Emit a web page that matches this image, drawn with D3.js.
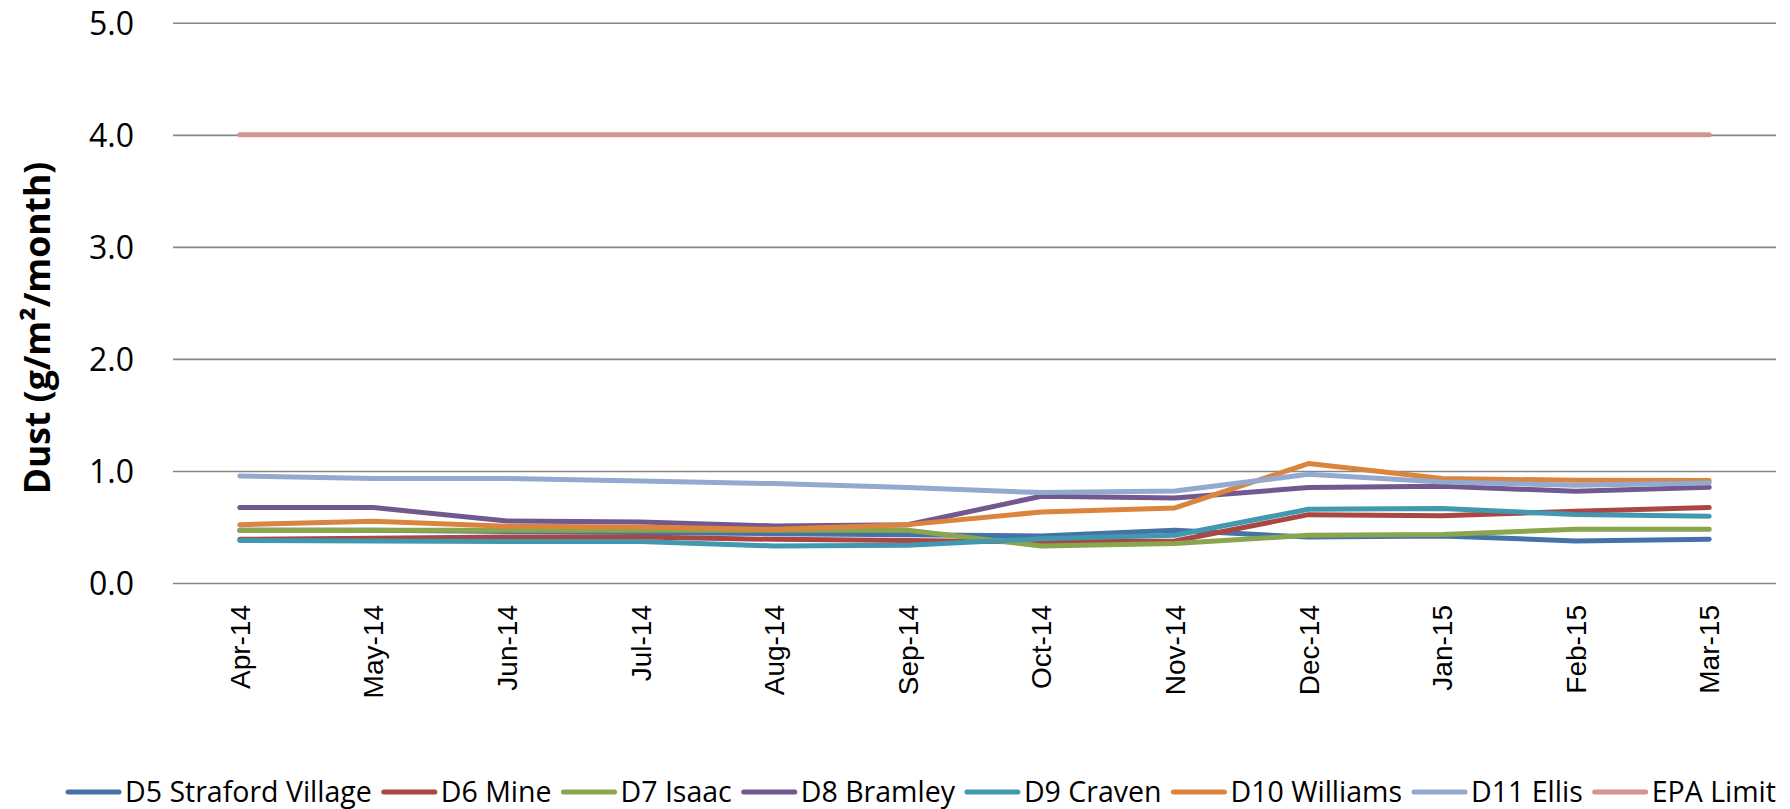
<!DOCTYPE html>
<html>
<head>
<meta charset="utf-8">
<script src="https://cdn.jsdelivr.net/npm/d3@7"></script>
<style>
  html, body { margin: 0; padding: 0; background: #fff; }
  svg { display: block; }
</style>
</head>
<body>
<svg id="chart" width="1790" height="809"></svg>
<script>
const months = ["Apr-14","May-14","Jun-14","Jul-14","Aug-14","Sep-14","Oct-14","Nov-14","Dec-14","Jan-15","Feb-15","Mar-15"];
const seriesNames = ["D5 Straford Village","D6 Mine","D7 Isaac","D8 Bramley","D9 Craven","D10 Williams","D11 Ellis","EPA Limit"];
const d5 = [0.47, 0.47, 0.46, 0.45, 0.44, 0.43, 0.42, 0.47, 0.41, 0.42, 0.375, 0.39];
const d6 = [0.39, 0.40, 0.41, 0.41, 0.39, 0.38, 0.365, 0.375, 0.61, 0.60, 0.64, 0.673];
const d7 = [0.47, 0.47, 0.47, 0.47, 0.47, 0.47, 0.33, 0.352, 0.426, 0.432, 0.479, 0.479];
const d8 = [0.673, 0.673, 0.554, 0.545, 0.509, 0.52, 0.774, 0.759, 0.852, 0.863, 0.819, 0.854];
const d9 = [0.38, 0.375, 0.37, 0.37, 0.33, 0.336, 0.396, 0.426, 0.658, 0.664, 0.611, 0.595];
const d10 = [0.521, 0.551, 0.506, 0.5, 0.479, 0.521, 0.634, 0.67, 1.066, 0.932, 0.917, 0.914];
const d11 = [0.955, 0.932, 0.932, 0.911, 0.887, 0.852, 0.807, 0.821, 0.97, 0.902, 0.872, 0.893];
const epa = [4.0, 4.0, 4.0, 4.0, 4.0, 4.0, 4.0, 4.0, 4.0, 4.0, 4.0, 4.0];
const yTicks = [0, 1, 2, 3, 4, 5];
const colors = ["#4572A7","#AA4643","#89A54E","#71588F","#4198AF","#DB843D","#93A9CF","#D39391"];
const yTitle = "Dust (g/m\u00B2/month)";

const seriesValues = [d5, d6, d7, d8, d9, d10, d11, epa];
const series = seriesNames.map((name, i) => ({name, color: colors[i], values: seriesValues[i]}));

const svg = d3.select("#chart");
const plotLeft = 173, plotRight = 1776, plotTop = 22.8, plotBottom = 583;

const xBand = d3.scaleBand().domain(months).range([plotLeft, plotRight]);
const x = m => xBand(m) + xBand.bandwidth() / 2;
const y = d3.scaleLinear().domain([0, 5]).range([plotBottom, plotTop]);

// gridlines + y labels via axis
const yAxis = d3.axisLeft(y).tickValues(yTicks).tickFormat(d3.format(".1f"))
  .tickSize(-(plotRight - plotLeft)).tickPadding(39);
const gy = svg.append("g").attr("transform", `translate(${plotLeft},0)`).call(yAxis);
gy.select(".domain").remove();
gy.selectAll(".tick line").attr("stroke", "#868686").attr("stroke-width", 1.6);
gy.selectAll(".tick text")
  .attr("font-family", "'Open Sans', sans-serif").attr("font-size", 32).attr("fill", "#000")
  .attr("dy", "0.36em");

// x axis labels
const xAxis = d3.axisBottom(xBand).tickSize(0).tickPadding(0);
const gx = svg.append("g").attr("transform", `translate(0,${plotBottom})`).call(xAxis);
gx.select(".domain").remove();
gx.selectAll(".tick text")
  .attr("font-family", "'Liberation Sans', Arial, sans-serif").attr("font-size", 28).attr("fill", "#000")
  .attr("text-anchor", "end")
  .attr("transform", "translate(0,22) rotate(-90)")
  .attr("x", 0).attr("y", 0).attr("dy", "0.36em");

// lines
const line = d3.line().x((d, i) => x(months[i])).y(d => y(d));
svg.append("g").selectAll("path").data(series).join("path")
  .attr("d", d => line(d.values))
  .attr("fill", "none")
  .attr("stroke", d => d.color)
  .attr("stroke-width", 5)
  .attr("stroke-linecap", "round")
  .attr("stroke-linejoin", "round");

// y title
svg.append("text")
  .attr("transform", "translate(50,328) rotate(-90)")
  .attr("text-anchor", "middle")
  .attr("font-family", "'Open Sans', sans-serif")
  .attr("font-weight", "bold")
  .attr("font-size", 35.5)
  .attr("fill", "#000")
  .text(yTitle);

// legend
const legendY = 792;
const symW = 55, symGap = 4, itemGap = 10;
const lg = svg.append("g");
const items = lg.selectAll("g").data(series).join("g");
items.append("line")
  .attr("x1", 2).attr("x2", symW - 2).attr("y1", 0).attr("y2", 0)
  .attr("stroke", d => d.color).attr("stroke-width", 5).attr("stroke-linecap", "round");
items.append("text")
  .attr("x", symW + symGap).attr("y", 0).attr("dy", "0.35em")
  .attr("font-family", "'Open Sans', sans-serif").attr("font-size", 28.5).attr("fill", "#000")
  .text(d => d.name);
let cx = 0;
const offs = [];
items.each(function() {
  const w = d3.select(this).select("text").node().getComputedTextLength();
  offs.push(cx);
  cx += symW + symGap + w + itemGap;
});
const totalW = cx - itemGap;
const startX = 921 - totalW / 2;
items.attr("transform", (d, i) => `translate(${startX + offs[i]},${legendY})`);
</script>
</body>
</html>
